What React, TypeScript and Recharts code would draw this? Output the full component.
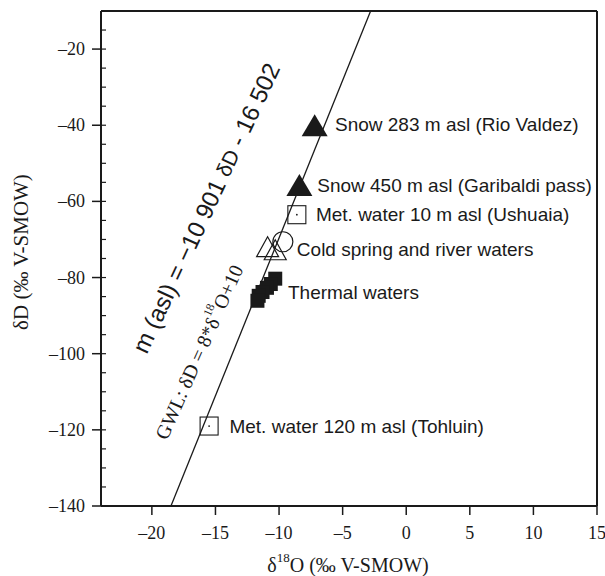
import { ReferenceLine, Scatter, ScatterChart, XAxis, YAxis } from "recharts";

// axis ticks
const xTicks = [-20, -15, -10, -5, 0, 5, 10, 15];
const yTicks = [-140, -120, -100, -80, -60, -40, -20];
const yMinorTicks = [-135, -130, -125, -115, -110, -105, -95, -90, -85, -75, -70, -65, -55, -50, -45, -35, -30, -25, -15];

// samples (δ18O, δD)
const snowX = [-7.2, -8.4];
const snowY = [-40, -55.7];
const metX = [-8.6, -15.5];
const metY = [-63.5, -119];
const springTriX = [-10.9, -10.3];
const springTriY = [-71.9, -72.7];
const springCircleX = [-9.7];
const springCircleY = [-70.6];
const thermalX = [-10.3, -10.65, -10.95, -11.3, -11.6, -11.7];
const thermalY = [-80.3, -81.7, -82.7, -83.8, -84.8, -86.1];

// global water line end points
const gwlX = [-18.5, -2.8];
const gwlY = [-140, -10];

// point labels
const labelText = [
  "Snow 283 m asl (Rio Valdez)",
  "Snow 450 m asl (Garibaldi pass)",
  "Met. water 10 m asl (Ushuaia)",
  "Cold spring and river waters",
  "Thermal waters",
  "Met. water 120 m asl (Tohluin)",
];
const labelX = [-5.6, -7.0, -7.1, -8.6, -9.3, -13.9];
const labelY = [-39.9, -55.7, -63.5, -72.7, -83.8, -119.2];

const zip = (xs: number[], ys: number[]) => xs.map((x, i) => ({ x, y: ys[i] }));

const SERIF = "'Liberation Serif', 'Times New Roman', serif";
const SANS = "'Liberation Sans', Arial, sans-serif";
const INK = "#1a1a1a";

const FilledTri = ({ cx, cy }: any) => (
  <polygon
    points={`${cx},${cy - 11} ${cx + 13},${cy + 11} ${cx - 13},${cy + 11}`}
    fill={INK}
  />
);

const OpenTri = ({ cx, cy }: any) => (
  <polygon
    points={`${cx},${cy - 10} ${cx + 11},${cy + 10} ${cx - 11},${cy + 10}`}
    fill="none"
    stroke={INK}
    strokeWidth={1.2}
  />
);

const OpenCircle = ({ cx, cy }: any) => (
  <circle cx={cx} cy={cy} r={10} fill="none" stroke={INK} strokeWidth={1.2} />
);

const DotSquare = ({ cx, cy }: any) => (
  <g>
    <rect x={cx - 9} y={cy - 9} width={18} height={18} fill="none" stroke={INK} strokeWidth={1.1} />
    <circle cx={cx} cy={cy} r={0.9} fill={INK} />
  </g>
);

const FilledSquare = ({ cx, cy }: any) => (
  <rect x={cx - 7} y={cy - 7} width={14} height={14} fill={INK} />
);

const LabelShape = ({ cx, cy, payload }: any) => (
  <text x={cx} y={cy} dominantBaseline="central" fontFamily={SANS} fontSize={19} fill={INK}>
    {payload.text}
  </text>
);

const BottomTick = ({ x, y, payload }: any) => (
  <g>
    <line x1={x} y1={y} x2={x} y2={y + 9} stroke={INK} strokeWidth={1.5} />
    <text x={x} y={y + 27} textAnchor="middle" dominantBaseline="central" fontFamily={SERIF} fontSize={18} fill={INK}>
      {payload.value < 0 ? `–${-payload.value}` : payload.value}
    </text>
  </g>
);

const LeftTick = ({ x, y, payload }: any) => {
  const major = payload.value % 20 === 0;
  return (
    <g>
      <line x1={x} y1={y} x2={x + 5} y2={y} stroke={INK} strokeWidth={1.2} />
      {major && <line x1={x - 9} y1={y} x2={x} y2={y} stroke={INK} strokeWidth={1.5} />}
      {major && (
        <text x={x - 16} y={y} textAnchor="end" dominantBaseline="central" fontFamily={SERIF} fontSize={18} fill={INK}>
          {`–${-payload.value}`}
        </text>
      )}
    </g>
  );
};

const TopTick = ({ x, y }: any) => (
  <line x1={x} y1={y} x2={x} y2={y + 5} stroke={INK} strokeWidth={1.2} />
);

const RightTick = ({ x, y }: any) => (
  <line x1={x} y1={y} x2={x - 5} y2={y} stroke={INK} strokeWidth={1.2} />
);

export default function App() {
  const labels = labelText.map((text, i) => ({ x: labelX[i], y: labelY[i], text }));
  return (
    <div style={{ position: "absolute", left: 0, top: 0, width: 605, height: 576, background: "#fff" }}>
      <ScatterChart width={605} height={576} margin={{ top: 10, right: 7, bottom: 69, left: 0 }}>
        <XAxis
          type="number"
          dataKey="x"
          domain={[-24, 15]}
          ticks={xTicks}
          height={1}
          tickSize={0}
          tickMargin={0}
          tickLine={false}
          axisLine={{ stroke: INK, strokeWidth: 2 }}
          tick={<BottomTick />}
          interval={0}
        />
        <XAxis
          xAxisId="top"
          orientation="top"
          type="number"
          dataKey="x"
          domain={[-24, 15]}
          ticks={xTicks}
          height={1}
          tickSize={0}
          tickMargin={0}
          tickLine={false}
          axisLine={{ stroke: INK, strokeWidth: 2 }}
          tick={<TopTick />}
          interval={0}
        />
        <YAxis
          type="number"
          dataKey="y"
          domain={[-140, -10]}
          ticks={[...yTicks, ...yMinorTicks]}
          width={101}
          tickSize={0}
          tickMargin={0}
          tickLine={false}
          axisLine={{ stroke: INK, strokeWidth: 2 }}
          tick={<LeftTick />}
          interval={0}
        />
        <YAxis
          yAxisId="right"
          orientation="right"
          type="number"
          dataKey="y"
          domain={[-140, -10]}
          ticks={yTicks}
          width={1}
          tickSize={0}
          tickMargin={0}
          tickLine={false}
          axisLine={{ stroke: INK, strokeWidth: 2 }}
          tick={<RightTick />}
          interval={0}
        />
        <ReferenceLine
          segment={zip(gwlX, gwlY)}
          stroke={INK}
          strokeWidth={1.3}
          ifOverflow="visible"
        />
        <Scatter data={zip(snowX, snowY)} shape={<FilledTri />} isAnimationActive={false} />
        <Scatter data={zip(metX, metY)} shape={<DotSquare />} isAnimationActive={false} />
        <Scatter data={zip(springTriX, springTriY)} shape={<OpenTri />} isAnimationActive={false} />
        <Scatter data={zip(springCircleX, springCircleY)} shape={<OpenCircle />} isAnimationActive={false} />
        <Scatter data={zip(thermalX, thermalY)} shape={<FilledSquare />} isAnimationActive={false} />
        <Scatter data={labels} shape={<LabelShape />} isAnimationActive={false} />
      </ScatterChart>
      <svg
        width={605}
        height={576}
        style={{ position: "absolute", left: 0, top: 0, pointerEvents: "none" }}
      >
        <text
          transform="translate(206,208) rotate(-65)"
          textAnchor="middle"
          dominantBaseline="central"
          fontFamily={SANS}
          fontSize={24}
          fill={INK}
        >
          m (asl) = −10 901 <tspan fontSize={21}>δD</tspan> - 16 502
        </text>
        <text
          transform="translate(199,352) rotate(-66)"
          textAnchor="middle"
          dominantBaseline="central"
          fontFamily={SERIF}
          fontSize={20}
          fill={INK}
        >
          GWL: δD = 8*δ<tspan dy={-8} fontSize={12}>18</tspan>
          <tspan dy={8}>O+10</tspan>
        </text>
        <text
          transform="translate(21,252) rotate(-90)"
          textAnchor="middle"
          dominantBaseline="central"
          fontFamily={SERIF}
          fontSize={21}
          fill={INK}
        >
          δD (‰  V-SMOW)
        </text>
        <text x={348} y={565} textAnchor="middle" dominantBaseline="central" fontFamily={SERIF} fontSize={20} fill={INK}>
          δ<tspan dy={-8} fontSize={13}>18</tspan>
          <tspan dy={8}>O (‰  V-SMOW)</tspan>
        </text>
      </svg>
    </div>
  );
}
